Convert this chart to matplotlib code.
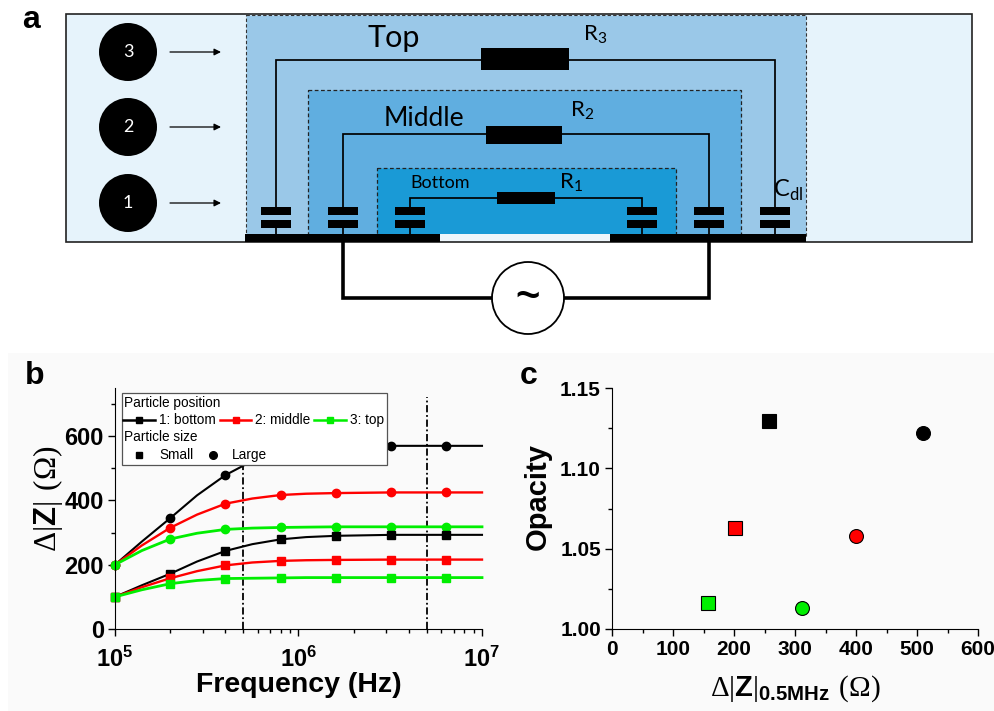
import matplotlib
matplotlib.use('Agg')
import matplotlib.pyplot as plt
from matplotlib.patches import Rectangle, Circle

plt.rcParams['font.family'] = ['Liberation Sans', 'DejaVu Sans']
plt.rcParams['mathtext.fontset'] = 'custom'
plt.rcParams['mathtext.rm'] = 'Liberation Serif'
plt.rcParams['mathtext.bf'] = 'Liberation Sans:bold'

# panel b
line_freq = [1e5, 1.4e5, 2e5, 2.8e5, 4e5, 5.6e5, 8e5, 1.1e6, 1.6e6, 3.2e6, 6.4e6, 1e7]
marker_idx = [0, 2, 4, 6, 8, 9, 10]
large_bottom = [200, 272, 345, 416, 479, 523, 555, 563, 568, 570, 570, 570]
large_middle = [200, 260, 315, 356, 390, 406, 417, 421, 423, 425, 425, 425]
large_top = [200, 244, 280, 298, 310, 314, 316, 317, 318, 318, 318, 318]
small_bottom = [100, 136, 172, 210, 243, 264, 279, 286, 290, 293, 293, 293]
small_middle = [100, 130, 158, 180, 198, 207, 212, 214, 215, 216, 216, 216]
small_top = [100, 122, 141, 151, 157, 158, 159, 160, 160, 160, 160, 160]
window_freq = [5e5, 5e6]
b_xticks = [1e5, 1e6, 1e7]
b_xlabels = [r'$\mathbf{10^{5}}$', r'$\mathbf{10^{6}}$', r'$\mathbf{10^{7}}$']

# panel c
small_dz = [257, 202, 157]
small_opacity = [1.1297, 1.0629, 1.0164]
large_dz = [509.5, 400, 312]
large_opacity = [1.122, 1.0577, 1.0133]

BLACK, RED, GREEN = '#000000', '#ff0000', '#00ee00'
W, H = 995, 711


def axes_box(x0, x1, y_top, y_bot):
    return [x0 / W, 1 - y_bot / H, (x1 - x0) / W, (y_bot - y_top) / H]


def style_axes(ax):
    ax.patch.set_visible(False)
    ax.spines['top'].set_visible(False)
    ax.spines['right'].set_visible(False)
    ax.tick_params(which='major', length=5, width=1, labelsize=15, pad=3)
    ax.tick_params(which='minor', length=3, width=1)
    for lab in ax.get_xticklabels() + ax.get_yticklabels():
        lab.set_fontweight('bold')


fig = plt.figure(figsize=(W / 100, H / 100), dpi=100, facecolor='white')
fig.add_artist(Rectangle((8 / W, 0), 1 - 8 / W, 1 - 353 / H, transform=fig.transFigure,
                         facecolor='#fafafa', edgecolor='none', zorder=-1))

# ---- b ----
axb = fig.add_axes(axes_box(115, 482, 388, 629))
for xf in window_freq:
    axb.plot([xf, xf], [0, 722], color='black', lw=1.3, ls=(0, (4, 1.5, 1, 1.5)))
for vals, col, lw in [(large_bottom, BLACK, 1.5), (large_middle, RED, 1.7), (large_top, GREEN, 2)]:
    axb.plot(line_freq, vals, color=col, lw=lw, marker='o', ms=6, markevery=marker_idx, clip_on=False)
for vals, col, lw in [(small_bottom, BLACK, 1.5), (small_middle, RED, 1.7), (small_top, GREEN, 2)]:
    axb.plot(line_freq, vals, color=col, lw=lw, marker='s', ms=5.5, markevery=marker_idx, clip_on=False)
axb.set_xscale('log')
axb.set_xlim(1e5, 1e7)
axb.set_ylim(0, 750)
axb.set_xticks(b_xticks)
axb.set_xticklabels(b_xlabels)
axb.set_yticks([0, 200, 400, 600])
axb.set_yticks([100, 300, 500, 700], minor=True)
style_axes(axb)
axb.tick_params(axis='x', labelsize=17, pad=8)
axb.tick_params(axis='y', labelsize=17, pad=3)
axb.set_xlabel('Frequency (Hz)', fontsize=20.5, fontweight='bold', labelpad=0)
axb.set_ylabel(r'$\mathrm{Δ}|\mathbf{Z}|\ (\mathrm{Ω})$', fontsize=22.5)
axb.yaxis.set_label_coords(-0.136, 0.54)

# ---- c ----
axc = fig.add_axes(axes_box(612, 978, 388, 629))
for xv, yv, col in zip(small_dz, small_opacity, [BLACK, RED, GREEN]):
    axc.plot([xv], [yv], 's', color=col, mec='black', mew=0.8, ms=9.5)
for xv, yv, col in zip(large_dz, large_opacity, [BLACK, RED, GREEN]):
    axc.plot([xv], [yv], 'o', color=col, mec='black', mew=0.8, ms=10)
axc.set_xlim(0, 600)
axc.set_ylim(1.0, 1.15)
axc.set_xticks(range(0, 601, 100))
axc.set_xticks(range(50, 600, 100), minor=True)
axc.set_yticks([1.0, 1.05, 1.1, 1.15])
axc.set_yticklabels(['1.00', '1.05', '1.10', '1.15'])
axc.set_yticks([1.025, 1.075, 1.125], minor=True)
style_axes(axc)
axc.set_xlabel(r'$\mathrm{Δ}|\mathbf{Z}|_{\mathbf{0.5MHz}}\ (\mathrm{Ω})$', fontsize=21, labelpad=10)
axc.set_ylabel('Opacity', fontsize=21, fontweight='bold')
axc.yaxis.set_label_coords(-0.164, 0.55)

# ---- overlay in pixel coordinates: schematic, legend, panel letters ----
ov = fig.add_axes([0, 0, 1, 1], zorder=5)
ov.set_xlim(0, W)
ov.set_ylim(H, 0)
ov.axis('off')
ov.patch.set_visible(False)


def box(x0, y0, x1, y1, **kw):
    ov.add_patch(Rectangle((x0, y0), x1 - x0, y1 - y0, **kw))


def wire(xs, ys, lw=1.25):
    ov.plot(xs, ys, color='black', lw=lw, solid_capstyle='butt', solid_joinstyle='miter')


box(66, 14, 972, 242, facecolor='#e6f3fb', edgecolor='#222222', lw=1.2)
box(246, 15, 806, 236, facecolor='#9ac8e8', edgecolor='#333333', lw=0.8, ls=(0, (3, 2)))
box(308, 90, 741, 236, facecolor='#60aee0', edgecolor='#222222', lw=0.9, ls=(0, (3, 2)))
box(377, 168, 676, 236, facecolor='#1a9ad6', edgecolor='#222222', lw=0.9, ls=(0, (3, 2)))

# wires and resistors
wire([276, 276, 775, 775], [208, 60, 60, 208])
wire([343, 343, 709, 709], [208, 134, 134, 208])
wire([410, 410, 642, 642], [208, 198, 198, 208])
box(481, 48, 569, 70, facecolor='black', edgecolor='none', zorder=3)
box(486, 126, 562, 144, facecolor='black', edgecolor='none', zorder=3)
box(497, 192, 555, 204, facecolor='black', edgecolor='none', zorder=3)

# capacitors
for cx in [276, 343, 410, 642, 709, 775]:
    box(cx - 15, 207, cx + 15, 215, facecolor='black', edgecolor='none', zorder=3)
    box(cx - 15, 220, cx + 15, 228, facecolor='black', edgecolor='none', zorder=3)
    wire([cx, cx], [228, 234])

# electrodes
box(440, 234, 610, 241, facecolor='#eef6fb', edgecolor='none', zorder=3)
box(245, 234, 440, 242, facecolor='black', edgecolor='none', zorder=3)
box(610, 234, 806, 242, facecolor='black', edgecolor='none', zorder=3)

# source
wire([343, 343, 709, 709], [242, 298, 298, 242], lw=2.6)
ov.add_patch(Circle((528, 298), 36, facecolor='white', edgecolor='black', lw=1.3, zorder=3))
ov.text(528, 298, '~', fontsize=30, fontweight='bold', ha='center', va='center', zorder=4)

# particles
for num, cy in zip(['3', '2', '1'], [52, 127, 203]):
    ov.add_patch(Circle((128, cy), 29, facecolor='black', edgecolor='none'))
    ov.text(128, cy, num, color='white', fontsize=13, family='Lato', ha='center', va='center')
    ov.annotate('', xy=(221, cy), xytext=(170, cy),
                arrowprops=dict(arrowstyle='-|>', color='black', lw=0.9, shrinkA=0, shrinkB=0))


def sch_text(x, y, s, size):
    ov.text(x, y, s, fontsize=size, family='Lato', ha='left', va='center', zorder=4)


sch_text(367, 38, 'Top', 22)
sch_text(384, 118, 'Middle', 19)
sch_text(410, 183, 'Bottom', 13)
sch_text(583, 35, r'R$_{\mathregular{3}}$', 16)
sch_text(570, 111, r'R$_{\mathregular{2}}$', 16)
sch_text(559, 183, r'R$_{\mathregular{1}}$', 16)
sch_text(773, 190, r'C$_{\mathregular{dl}}$', 17)

# panel letters
ov.text(22, 20, 'a', fontsize=23, fontweight='bold', ha='left', va='center')
ov.text(25, 376, 'b', fontsize=23, fontweight='bold', ha='left', va='center')
ov.text(520, 376, 'c', fontsize=23, fontweight='bold', ha='left', va='center')

# legend of b
box(122, 393, 387, 465, facecolor='white', edgecolor='#555555', lw=0.9)
LEG = 9.8
ov.text(124, 403, 'Particle position', fontsize=LEG, va='center')
ov.text(124, 437, 'Particle size', fontsize=LEG, va='center')
for x0, x1, col, name, tx in [(123, 155, BLACK, '1: bottom', 159),
                              (220, 251, RED, '2: middle', 255),
                              (314, 346, GREEN, '3: top', 350)]:
    ov.plot([x0, x1], [420, 420], color=col, lw=1.8)
    ov.plot([(x0 + x1) / 2], [420], 's', color=col, ms=5)
    ov.text(tx, 420, name, fontsize=LEG, va='center')
ov.plot([139], [455], 's', color='black', ms=5)
ov.text(159, 455, 'Small', fontsize=LEG, va='center')
ov.plot([213], [455], 'o', color='black', ms=5.5)
ov.text(232, 455, 'Large', fontsize=LEG, va='center')

fig.savefig('out.png', dpi=100)
